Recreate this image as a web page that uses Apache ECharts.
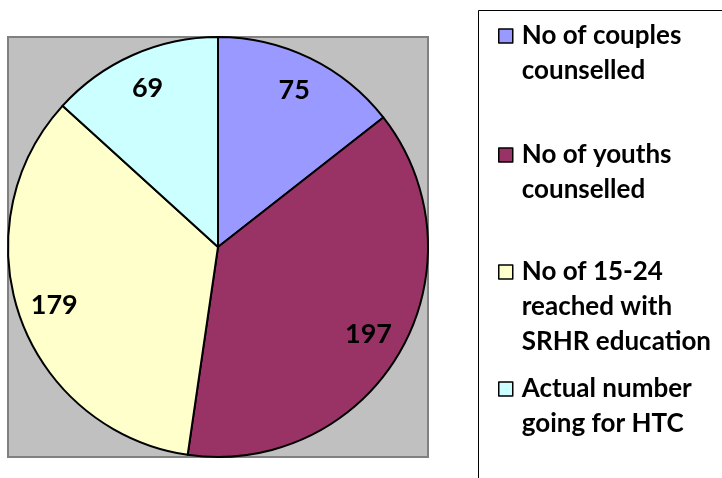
<!DOCTYPE html>
<html><head><meta charset="utf-8">
<script src="https://cdn.jsdelivr.net/npm/echarts@6/dist/echarts.min.js"></script>
<style>html,body{margin:0;padding:0;background:#fff}#c{width:722px;height:478px}</style>
</head><body><div id="c"></div>
<script>
const categories = ['No of couples\ncounselled', 'No of youths\ncounselled', 'No of 15-24\nreached with\nSRHR education', 'Actual number\ngoing for HTC'];
const values = [75, 197, 179, 69];
const colors = ['#9999FF', '#993366', '#FFFFCC', '#CCFFFF'];
const legendCenters = [36, 155, 272, 389];
const LH = 35;
const FONT = 'Lato';

const data = categories.map((n, i) => ({ name: n, value: values[i], itemStyle: { color: colors[i] } }));

const legends = categories.map((n, i) => {
  const lines = n.split('\n').length;
  return {
    orient: 'vertical',
    left: 498,
    top: legendCenters[i] - (2 * lines - 1) * LH / 2,
    data: [n],
    icon: 'rect',
    itemWidth: 14,
    itemHeight: 14,
    itemGap: 0,
    padding: 0,
    selectedMode: false,
    itemStyle: { borderColor: '#000', borderWidth: 1.5 },
    formatter: function (name) { return '\n'.repeat(lines - 1) + name; },
    textStyle: { fontFamily: FONT, fontWeight: 'bold', fontSize: 26, lineHeight: LH, color: '#000', padding: [0, 0, 0, 4] }
  };
});

const chart = echarts.init(document.getElementById('c'));
chart.setOption({
  animation: false,
  legend: legends,
  graphic: [
    { type: 'rect', z: -10, shape: { x: 8, y: 37, width: 420, height: 420 }, style: { fill: '#C0C0C0', stroke: '#808080', lineWidth: 2 } },
    { type: 'rect', z: -10, shape: { x: 478.5, y: 10.5, width: 300, height: 500 }, style: { fill: 'none', stroke: '#000', lineWidth: 1 } }
  ],
  series: [
    {
      type: 'pie', center: [218, 247], radius: 210, startAngle: 90, clockwise: true,
      data: data, label: { show: false }, labelLine: { show: false },
      itemStyle: { borderColor: '#000', borderWidth: 2 },
      emphasis: { disabled: true }, silent: true
    },
    {
      type: 'pie', center: [218, 247], radius: [132, 210], startAngle: 90, clockwise: true,
      data: data.map(d => ({ name: d.name, value: d.value })),
      itemStyle: { color: 'rgba(0,0,0,0)', borderWidth: 0 },
      label: { show: true, position: 'inside', formatter: '{c}', fontFamily: FONT, fontWeight: 'bold', fontSize: 27, color: '#000' },
      labelLine: { show: false }, emphasis: { disabled: true }, silent: true
    }
  ]
});
</script></body></html>
